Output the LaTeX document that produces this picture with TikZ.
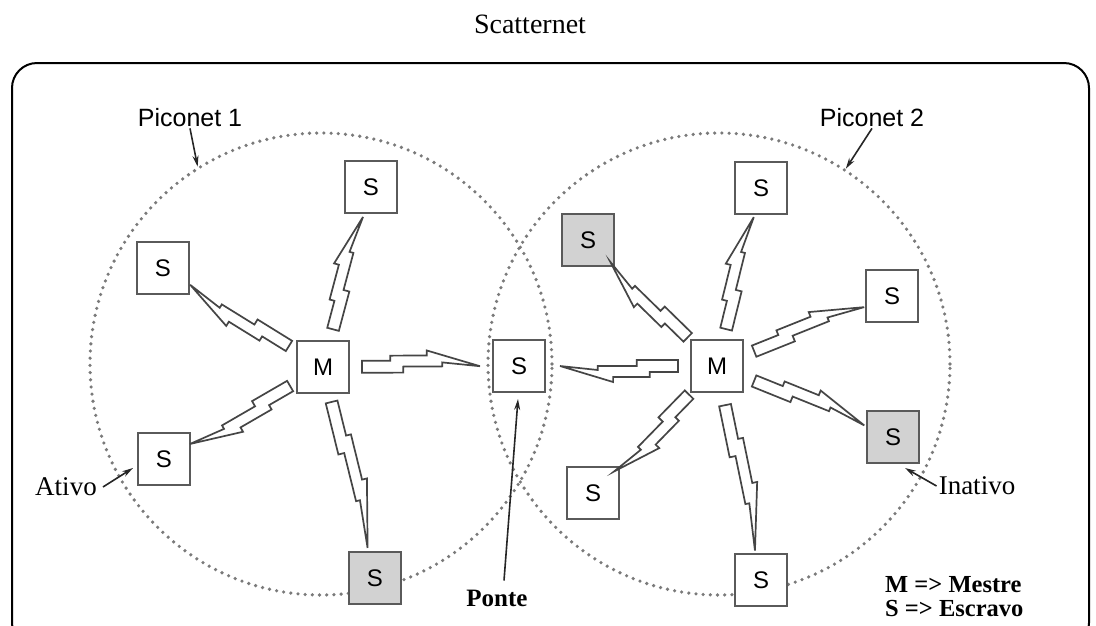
\documentclass[tikz,border=0pt]{standalone}
\usepackage{fontspec}
\setmainfont{Liberation Serif}
\setsansfont{Liberation Sans}
\usetikzlibrary{calc,arrows.meta}
\definecolor{boxgray}{HTML}{5A5A5A}
\definecolor{idlegray}{HTML}{D2D2D2}
\definecolor{dotgray}{HTML}{7A7A7A}
\definecolor{boltgray}{HTML}{454545}
\newcommand\wlink[4]{%
  \coordinate (bA) at ($(#1)!#3!(#2)$);
  \coordinate (bB) at ($(#2)!#4!(#1)$);
  \draw[boltstyle] ($(bA)!6pt!90:(bB)$) -- ($(bA)!0.24!(bB)!6pt!90:(bB)$)
    -- ($(bA)!0.24!(bB)!11pt!90:(bB)$) -- ($(bA)!0.55!(bB)!11pt!90:(bB)$)
    -- ($(bA)!0.55!(bB)!16pt!90:(bB)$) -- (bB)
    -- ($(bA)!0.68!(bB)!4pt!90:(bB)$) -- ($(bA)!0.68!(bB)$)
    -- ($(bA)!0.35!(bB)$) -- ($(bA)!0.35!(bB)!-6pt!90:(bB)$)
    -- ($(bA)!-6pt!90:(bB)$) -- cycle;
}
\begin{document}
\begin{tikzpicture}[x=1pt,y=-1pt,
  dev/.style={draw=boxgray, line width=2pt, fill=white, minimum size=52pt, inner sep=0pt,
    font=\sffamily\fontsize{24}{24}\selectfont},
  idle/.style={dev, fill=idlegray},
  piconet/.style={circle, draw=dotgray, line width=3.6pt, dash pattern=on 0pt off 7.2pt,
    line cap=round, minimum size=462pt, inner sep=0pt},
  boltstyle/.style={draw=boltgray, line width=1.7pt, fill=white, line join=miter},
  pointer/.style={draw=black!85, line width=1.6pt, -{Stealth[length=11pt,width=6pt]}},
  sflabel/.style={font=\sffamily\fontsize{25}{25}\selectfont, inner sep=1pt},
  rmlabel/.style={font=\fontsize{27}{27}\selectfont, inner sep=1pt},
  bflabel/.style={font=\bfseries\fontsize{24.5}{24.5}\selectfont, inner sep=1pt},
]
\useasboundingbox (0,0) rectangle (1096,625);
\clip (0,0) rectangle (1096,625);
\fill[white] (0,0) rectangle (1096,625);

% title and frame
\node[font=\fontsize{28}{28}\selectfont] (title) at (530,24) {Scatternet};
\draw[line width=2pt, rounded corners=25pt] (12,63) rectangle (1089,648);

% piconets
\node[piconet] (pic1) at (321,364) {};
\node[piconet] (pic2) at (719,364) {};

% devices, piconet 1
\node[dev] (m1) at (323,367) {M};
\node[dev] (s1a) at (371,187) {S};
\node[dev] (s1b) at (163,268) {S};
\node[dev] (s1c) at (164,459) {S};
\node[idle] (s1d) at (375,578) {S};
% bridge
\node[dev] (br) at (519,366) {S};
% devices, piconet 2
\node[dev] (m2) at (717,366) {M};
\node[idle] (s2a) at (588,240) {S};
\node[dev] (s2b) at (761,188) {S};
\node[dev] (s2c) at (892,296) {S};
\node[idle] (s2d) at (893,437) {S};
\node[dev] (s2e) at (593,493) {S};
\node[dev] (s2f) at (761,580) {S};

% radio links
\wlink{m1}{s1b}{40pt}{32pt}
\wlink{m1}{s1a}{39pt}{31pt}
\wlink{m1}{br}{39pt}{39pt}
\wlink{m1}{s1c}{38pt}{30pt}
\wlink{m1}{s1d}{36pt}{31pt}
\wlink{m2}{br}{39pt}{41pt}
\wlink{m2}{s2a}{41pt}{31pt}
\wlink{m2}{s2b}{38pt}{30pt}
\wlink{m2}{s2c}{40pt}{30pt}
\wlink{m2}{s2d}{40pt}{31pt}
\wlink{m2}{s2e}{40pt}{30pt}
\wlink{m2}{s2f}{40pt}{30pt}

% labels
\node[sflabel] (l1) at (190,118) {Piconet 1};
\node[sflabel] (l2) at (872,118) {Piconet 2};
\draw[pointer] (l1.south) -- (pic1.122);
\draw[pointer] (l2.south) -- (pic2.57);

\node[rmlabel] (ativo) at (66,487) {Ativo};
\draw[pointer] ([xshift=5pt]ativo.east) -- ($(s1c.west)+(-4,9)$);

\node[rmlabel] (inativo) at (977,486) {Inativo};
\draw[pointer] ([xshift=-1pt]inativo.west) -- ($(s2d.south)+(12,4)$);

\node[font=\bfseries\fontsize{25}{25}\selectfont, inner sep=1pt] (ponte) at (497,598) {Ponte};
\draw[pointer] ($(ponte.north)+(7,-8)$) -- ($(br.south)+(-1,6)$);

\node[bflabel, anchor=west] (lg1) at (884,585) {M => Mestre};
\node[bflabel, anchor=west] (lg2) at (884,608) {S => Escravo};
\end{tikzpicture}
\end{document}
